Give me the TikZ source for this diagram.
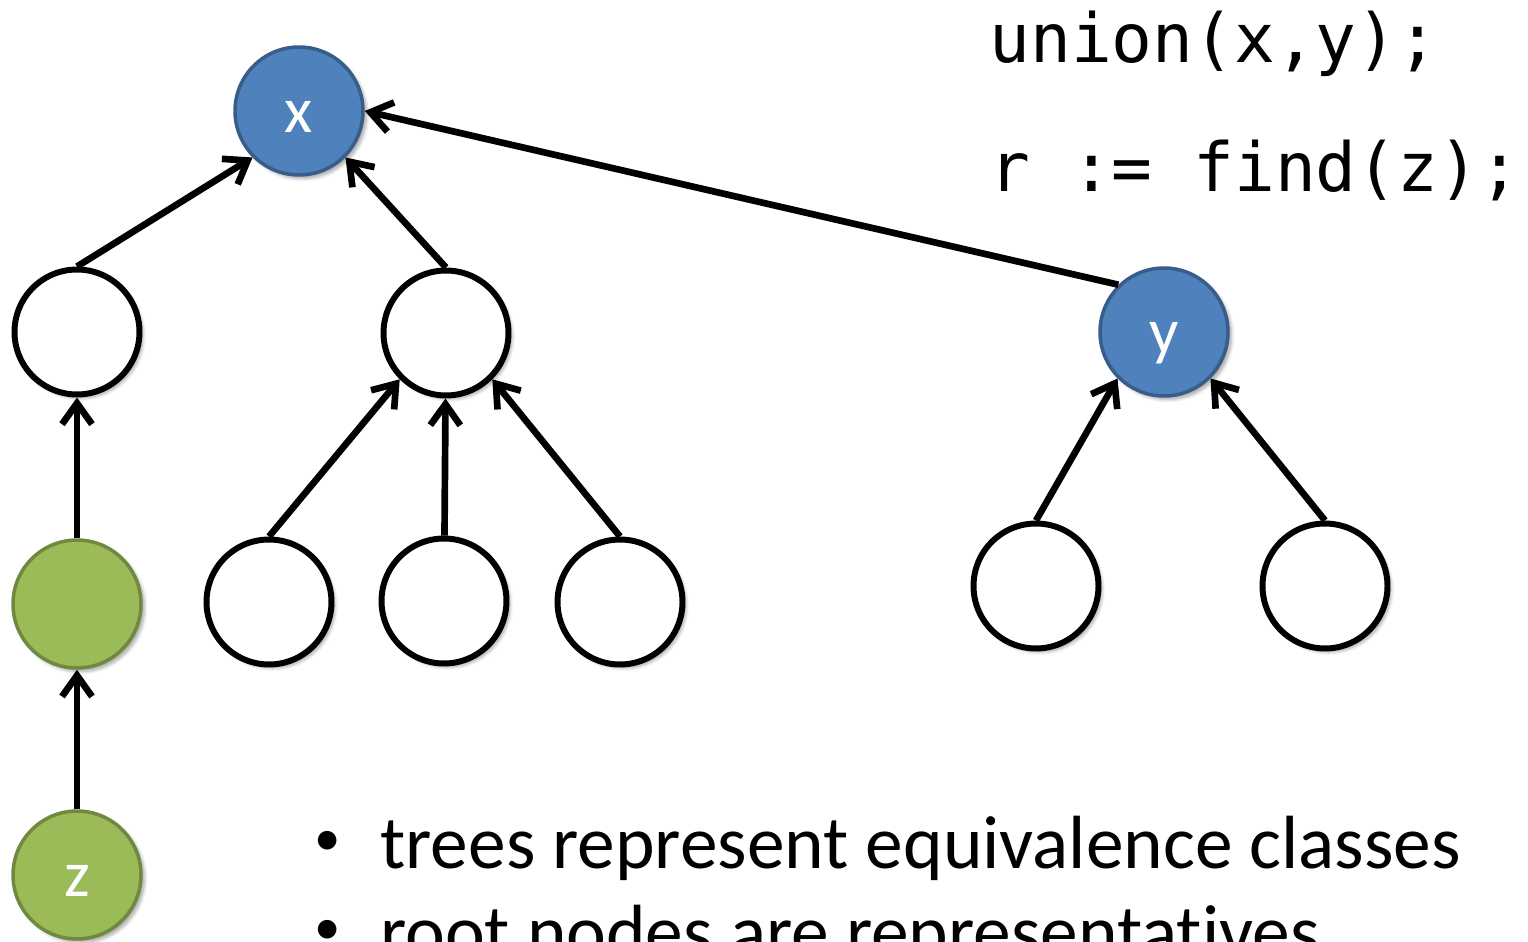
\documentclass[tikz,border=0pt]{standalone}
\usepackage{fontspec}
\setmainfont[Ligatures=NoCommon]{Carlito}
\newfontfamily\codefont{DejaVu Sans Mono}
\usetikzlibrary{arrows.meta,shadows.blur}

\definecolor{rootblue}{HTML}{4F81BD}
\definecolor{rootline}{HTML}{385D8A}
\definecolor{findgreen}{HTML}{9BBB59}
\definecolor{findline}{HTML}{71893F}

\begin{document}
\begin{tikzpicture}[
  x=0.02cm, y=-0.02cm,
  vertex/.style={circle, draw=black, line width=3.4pt, fill=white, minimum size=2.5cm, inner sep=0pt,
    text=white, text height=25pt, text depth=0pt, font=\fontsize{37}{37}\selectfont,
    blur shadow={shadow xshift=2pt, shadow yshift=-2pt, shadow blur steps=6, shadow opacity=35}},
  rootnode/.style={vertex, fill=rootblue, draw=rootline, line width=2pt, minimum size=2.56cm},
  findnode/.style={vertex, fill=findgreen, draw=findline, line width=2pt, minimum size=2.56cm},
  link/.style={-{Straight Barb[length=0.42cm, width=0.6cm]}, line width=3.8pt},
  code/.style={anchor=base west, inner sep=0pt, font=\codefont\fontsize{38.6}{38.6}\selectfont},
  item/.style={anchor=base west, inner sep=0pt, font=\fontsize{42.9}{42.9}\selectfont},
  dot/.style={anchor=base, inner sep=0pt, font=\fontsize{30}{30}\selectfont}
]
\clip (0,0) rectangle (1528,942);

% first tree
\node[rootnode] (x) at (299,111) {x};
\node[vertex] (a) at (77,332) {};
\node[vertex] (b) at (446,333) {};
\node[findnode] (g) at (77,604) {};
\node[findnode] (z) at (77,875) {z};
\node[vertex] (c) at (269,602) {};
\node[vertex] (d) at (444,601) {};
\node[vertex] (e) at (620,602) {};

% second tree
\node[rootnode] (y) at (1164,332) {y};
\node[vertex] (f) at (1036,586) {};
\node[vertex] (h) at (1325,586) {};

% parent links
\draw[link] (a.north) -- (x.225);
\draw[link] (b.north) -- (x.-45);
\draw[link] (y.134) -- (x.east);
\draw[link] (g) -- (a);
\draw[link] (z) -- (g);
\draw[link] (c.north) -- (b.225);
\draw[link] (d) -- (b);
\draw[link] (e.north) -- (b.-45);
\draw[link] (f.north) -- (y.225);
\draw[link] (h.north) -- (y.-45);

% operations
\node[code] (union) at (989,63) {union(x,y);};
\node[code] (find) at (989,192) {r := find(z);};

% bullets
\node[dot] (dot1) at (328,855) {\textbullet};
\node[item] (trees) at (380,868) {trees represent equivalence classes};
\node[dot] (dot2) at (328,944) {\textbullet};
\node[item] (roots) at (380,957) {root nodes are representatives};

\end{tikzpicture}
\end{document}
